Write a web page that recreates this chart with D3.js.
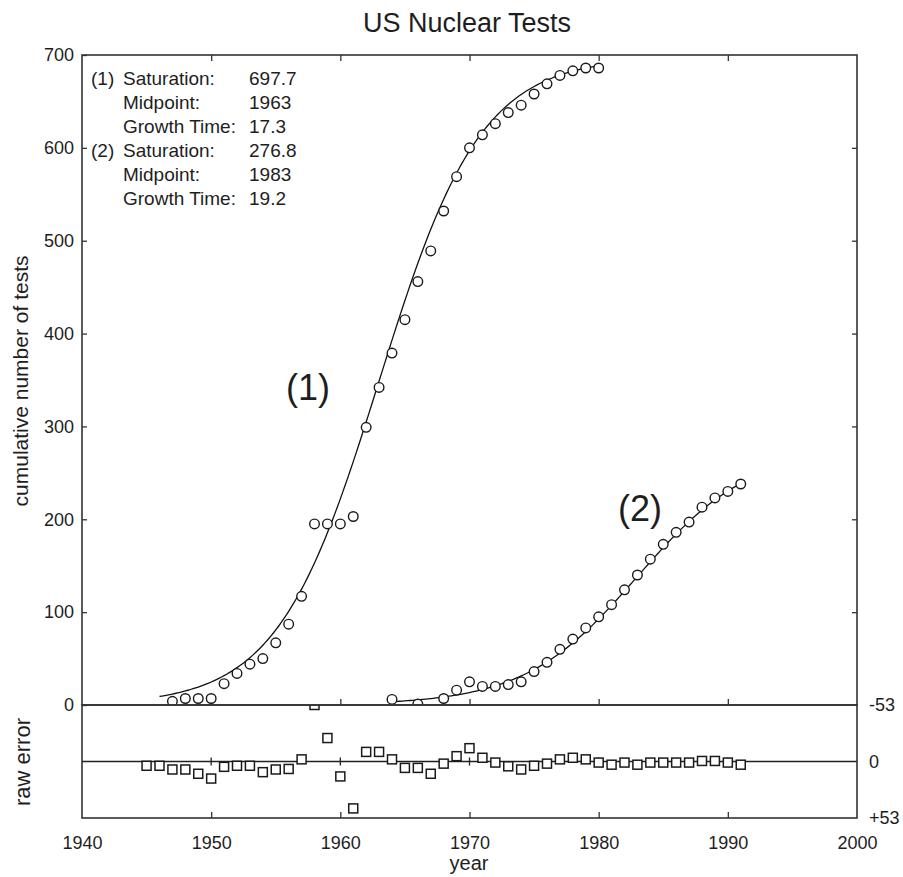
<!DOCTYPE html>
<html>
<head>
<meta charset="utf-8">
<title>US Nuclear Tests</title>
<script src="https://cdn.jsdelivr.net/npm/d3@7"></script>
<style>
    body { margin: 0; background: #fff; }
    svg text { font-family: "Liberation Sans", Arial, sans-serif; fill: #1e1e1e; }
    .frame { fill: none; stroke: #333; stroke-width: 1.6; }
    .axis path { display: none; }
    .axis line { stroke: #333; stroke-width: 1.3; }
</style>
</head>
<body>
<svg id="chart" width="903" height="877"></svg>
<script>
// pulse (1) - cumulative tests, circles
var years1 = [1947, 1948, 1949, 1950, 1951, 1952, 1953, 1954, 1955, 1956, 1957, 1958, 1959, 1960,
    1961, 1962, 1963, 1964, 1965, 1966, 1967, 1968, 1969, 1970, 1971, 1972, 1973, 1974, 1975,
    1976, 1977, 1978, 1979, 1980];
var tests1 = [4, 7, 7, 7, 23, 34, 44, 50, 67, 87, 117, 195, 195, 195,
    203, 299, 342, 379, 415, 456, 489, 532, 569, 600, 614, 626, 638, 646, 658,
    669, 678, 683, 686, 686];

// pulse (2)
var years2 = [1964, 1966, 1968, 1969, 1970, 1971, 1972, 1973, 1974, 1975, 1976, 1977, 1978,
    1979, 1980, 1981, 1982, 1983, 1984, 1985, 1986, 1987, 1988, 1989, 1990, 1991];
var tests2 = [6, 1, 7, 16, 25, 20, 20, 22, 25, 36, 46, 60, 71,
    83, 95, 108, 124, 140, 157, 173, 186, 197, 213, 223, 230, 238];

// raw error panel (squares), -53 at top, +53 at bottom
var errYears = [1945, 1946, 1947, 1948, 1949, 1950, 1951, 1952, 1953, 1954, 1955, 1956, 1957,
    1958, 1959, 1960, 1961, 1962, 1963, 1964, 1965, 1966, 1967, 1968, 1969, 1970, 1971, 1972,
    1973, 1974, 1975, 1976, 1977, 1978, 1979, 1980, 1981, 1982, 1983, 1984, 1985, 1986, 1987,
    1988, 1989, 1990, 1991];
var rawError = [4, 4, 7.5, 7.5, 11.5, 16, 5, 4, 4, 10, 7.5, 7, -2,
    -53, -22, 14, 44, -9, -9, -2, 6, 6, 11.5, 2, -5, -12.5, -3.5, 1,
    4.5, 7.5, 4, 2, -2, -3.5, -2, 1, 3, 1, 3, 1, 1, 1, 1,
    -0.5, -0.5, 1, 3];

// logistic fit parameters shown in the box
var saturation = [697.7, 276.8];
var midpoint = [1963, 1983];
var growthTime = [17.3, 19.2];
var fitFrom = [1946, 1964];
var fitTo = [1980, 1991];

var yearTicks = [1940, 1950, 1960, 1970, 1980, 1990, 2000];
var testTicks = [0, 100, 200, 300, 400, 500, 600, 700];
var errTicks = [-53, 0, 53];
var errTickLabels = ['-53', '0', '+53'];
var pulseLabels = ['(1)', '(2)'];
var paramNames = ['Saturation:', 'Midpoint:', 'Growth Time:'];

function drawChart() {
    var pLeft = 82, pRight = 857, pTop = 55, pMid = 705, pBottom = 818;

    var svg = d3.select('#chart');

    var x = d3.scaleLinear().domain([1940, 2000]).range([pLeft, pRight]);
    var y = d3.scaleLinear().domain([0, 700]).range([pMid, pTop]);
    var ye = d3.scaleLinear().domain([-53, 53]).range([pMid, pBottom]);

    function logistic(k, t) {
        var rate = Math.log(81) / growthTime[k];
        return saturation[k] / (1 + Math.exp(-rate * (t - midpoint[k])));
    }

    var defs = svg.append('defs');
    defs.append('clipPath').attr('id', 'clipMain').append('rect')
        .attr('x', pLeft).attr('y', pTop).attr('width', pRight - pLeft).attr('height', pMid - pTop);
    defs.append('clipPath').attr('id', 'clipErr').append('rect')
        .attr('x', pLeft).attr('y', pMid).attr('width', pRight - pLeft).attr('height', pBottom - pMid);

    // title
    svg.append('text').attr('x', 467).attr('y', 32).attr('text-anchor', 'middle')
        .style('font-size', '27px').text('US Nuclear Tests');

    // ticks, all pointing inwards
    svg.append('g').attr('class', 'axis').attr('transform', 'translate(' + pLeft + ',0)')
        .call(d3.axisLeft(y).tickValues(testTicks).tickSize(-5).tickPadding(8))
        .selectAll('text').style('font-size', '18px').attr('fill', '#1e1e1e');
    svg.append('g').attr('class', 'axis').attr('transform', 'translate(' + pRight + ',0)')
        .call(d3.axisRight(y).tickValues(testTicks.slice(1, 7)).tickSize(-5).tickFormat(''));
    svg.append('g').attr('class', 'axis').attr('transform', 'translate(0,' + pTop + ')')
        .call(d3.axisTop(x).tickValues(yearTicks.slice(1, 6)).tickSize(-6).tickFormat(''));
    svg.append('g').attr('class', 'axis').attr('transform', 'translate(0,' + pMid + ')')
        .call(d3.axisBottom(x).tickValues(yearTicks.slice(1, 6)).tickSize(-6).tickFormat(''));
    var xAxis = svg.append('g').attr('class', 'axis').attr('transform', 'translate(0,' + pBottom + ')')
        .call(d3.axisBottom(x).tickValues(yearTicks).tickSize(-6).tickPadding(18).tickFormat(d3.format('d')));
    xAxis.selectAll('text').style('font-size', '18px').attr('fill', '#1e1e1e');
    xAxis.selectAll('.tick line').filter(function (d) { return d == 1940 || d == 2000; }).remove();

    // zero line of the error panel with small crossing ticks
    svg.append('line').attr('x1', pLeft).attr('x2', pRight).attr('y1', ye(0)).attr('y2', ye(0))
        .attr('stroke', '#222').attr('stroke-width', 1.3);
    svg.append('g').selectAll('line').data(yearTicks.slice(1, 6)).enter().append('line')
        .attr('x1', function (d) { return x(d); }).attr('x2', function (d) { return x(d); })
        .attr('y1', ye(0) - 4).attr('y2', ye(0) + 4)
        .attr('stroke', '#222').attr('stroke-width', 1.3);

    // right side labels of the error panel
    svg.append('g').selectAll('text').data(errTicks).enter().append('text')
        .attr('x', pRight + 12).attr('y', function (d) { return ye(d); }).attr('dy', '0.35em')
        .style('font-size', '18px')
        .text(function (d, i) { return errTickLabels[i]; });

    // fitted curves
    var line = d3.line().x(function (d) { return x(d[0]); }).y(function (d) { return y(d[1]); });
    var gMain = svg.append('g').attr('clip-path', 'url(#clipMain)');
    saturation.forEach(function (s, k) {
        var pts = d3.range(fitFrom[k], fitTo[k] + 0.001, 0.2).map(function (t) {
            return [t, logistic(k, t)];
        });
        gMain.append('path').attr('d', line(pts)).attr('fill', 'none')
            .attr('stroke', '#111').attr('stroke-width', 1.3);
    });

    // data circles
    function drawCircles(xs, vs) {
        gMain.append('g').selectAll('circle').data(xs).enter().append('circle')
            .attr('cx', function (d) { return x(d); })
            .attr('cy', function (d, i) { return y(vs[i]); })
            .attr('r', 4.8)
            .attr('fill', '#fff').attr('stroke', '#1a1a1a').attr('stroke-width', 1.4);
    }
    drawCircles(years1, tests1);
    drawCircles(years2, tests2);

    // error squares
    var sq = 9;
    svg.append('g').attr('clip-path', 'url(#clipErr)').selectAll('rect').data(errYears).enter().append('rect')
        .attr('x', function (d) { return x(d) - sq / 2; })
        .attr('y', function (d, i) { return ye(rawError[i]) - sq / 2; })
        .attr('width', sq).attr('height', sq)
        .attr('fill', '#fff').attr('stroke', '#1a1a1a').attr('stroke-width', 1.5);

    // frames
    svg.append('rect').attr('class', 'frame').attr('x', pLeft).attr('y', pTop)
        .attr('width', pRight - pLeft).attr('height', pMid - pTop);
    svg.append('rect').attr('class', 'frame').attr('x', pLeft).attr('y', pMid)
        .attr('width', pRight - pLeft).attr('height', pBottom - pMid);

    // pulse labels
    svg.append('text').attr('x', x(1955.8)).attr('y', y(328)).style('font-size', '36px').text(pulseLabels[0]);
    svg.append('text').attr('x', x(1981.5)).attr('y', y(198)).style('font-size', '36px').text(pulseLabels[1]);

    // parameter box
    var box = svg.append('g').style('font-size', '19px');
    saturation.forEach(function (s, k) {
        var vals = [s.toFixed(1), String(midpoint[k]), growthTime[k].toFixed(1)];
        paramNames.forEach(function (name, j) {
            var by = 85 + (k * 3 + j) * 24;
            if (j == 0) {
                box.append('text').attr('x', 91).attr('y', by).text(pulseLabels[k]);
            }
            box.append('text').attr('x', 123).attr('y', by).text(name);
            box.append('text').attr('x', 249).attr('y', by).text(vals[j]);
        });
    });

    // axis titles
    svg.append('text').attr('transform', 'translate(28,381) rotate(-90)').attr('text-anchor', 'middle')
        .style('font-size', '21px').text('cumulative number of tests');
    svg.append('text').attr('transform', 'translate(30,762) rotate(-90)').attr('text-anchor', 'middle')
        .style('font-size', '22px').text('raw error');
    svg.append('text').attr('x', 469).attr('y', 870).attr('text-anchor', 'middle')
        .style('font-size', '20px').text('year');
}

drawChart();
</script>
</body>
</html>
